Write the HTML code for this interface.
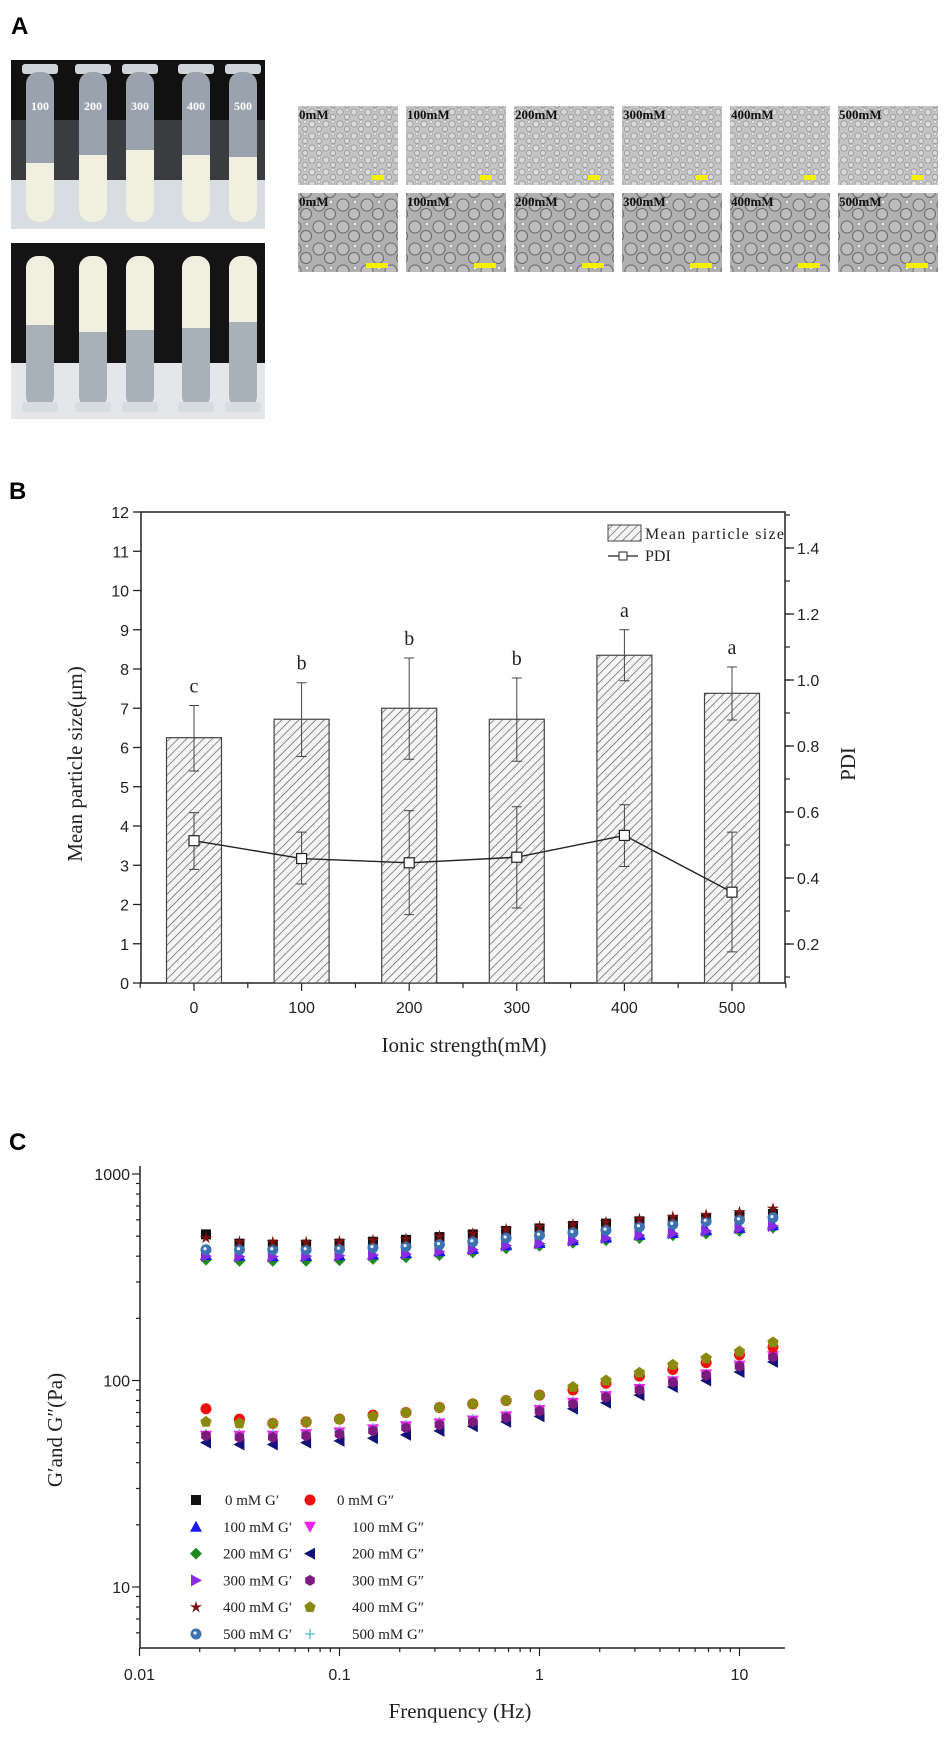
<!DOCTYPE html>
<html><head><meta charset="utf-8">
<style>
html,body{margin:0;padding:0;background:#fff;}
body{width:945px;height:1761px;position:relative;overflow:hidden;}
svg{position:absolute;left:0;top:0;}
</style></head>
<body>
<svg id="fig" width="945" height="1761" viewBox="0 0 945 1761" xmlns="http://www.w3.org/2000/svg">
<defs>
  <pattern id="hatch" width="6" height="6" patternUnits="userSpaceOnUse" patternTransform="rotate(45)">
    <rect width="6" height="6" fill="#f4f4f4"/>
    <line x1="0" y1="0" x2="0" y2="6" stroke="#555" stroke-width="1.3"/>
  </pattern>
  <pattern id="drops1" width="14" height="12" patternUnits="userSpaceOnUse">
    <rect width="14" height="12" fill="#c4c4c4"/>
    <circle cx="4" cy="4" r="3.2" fill="#d8d8d8" stroke="#8a8a8a" stroke-width="0.7"/>
    <circle cx="11" cy="9" r="2.6" fill="#dadada" stroke="#8a8a8a" stroke-width="0.7"/>
    <circle cx="11" cy="2" r="1.6" fill="#e0e0e0" stroke="#999" stroke-width="0.5"/>
  </pattern>
  <pattern id="drops2" width="24" height="22" patternUnits="userSpaceOnUse">
    <rect width="24" height="22" fill="#b0b0b0"/>
    <circle cx="7" cy="7" r="6" fill="#bdbdbd" stroke="#6a6a6a" stroke-width="1"/>
    <circle cx="18" cy="16" r="5.5" fill="#bdbdbd" stroke="#6a6a6a" stroke-width="1"/>
    <circle cx="19" cy="4" r="2" fill="#e8e8e8" stroke="#777" stroke-width="0.6"/>
  </pattern>
</defs>

<!-- Panel A -->
<text x="11" y="34" font-family="Liberation Sans, sans-serif" font-weight="bold" font-size="24">A</text>
<g>
  <rect x="11" y="60" width="254" height="169" fill="#d8dde2"/>
  <rect x="11" y="60" width="254" height="60" fill="#111"/>
  <rect x="11" y="120" width="254" height="60" fill="#3a3c40"/>
  <g id="topTubes"></g>
</g>
<g>
  <rect x="11" y="243" width="254" height="176" fill="#e4e6ea"/>
  <rect x="11" y="243" width="254" height="120" fill="#141414"/>
  <g id="botTubes"></g>
</g>
<g id="micro"></g>

<!-- Panel B -->
<text x="9" y="499" font-family="Liberation Sans, sans-serif" font-weight="bold" font-size="24">B</text>
<g id="chartB"></g>

<!-- Panel C -->
<text x="9" y="1150" font-family="Liberation Sans, sans-serif" font-weight="bold" font-size="24">C</text>
<g id="chartC"></g>
</svg>

<script>
// ---------- Chart B data ----------
const ionicCats = ["0","100","200","300","400","500"];
const meanSize = [6.25, 6.72, 7.0, 6.72, 8.35, 7.38];
const sizeUpper = [7.07, 7.65, 8.28, 7.77, 9.0, 8.05];
const sizeLower = [5.4, 5.77, 5.7, 5.65, 7.7, 6.7];
const pdiVals = [0.513, 0.459, 0.446, 0.463, 0.529, 0.357];
const pdiUpper = [0.598, 0.539, 0.604, 0.616, 0.622, 0.539];
const pdiLower = [0.426, 0.382, 0.289, 0.309, 0.435, 0.176];
const sigLetters = ["c","b","b","b","a","a"];
const leftTicks = [0,1,2,3,4,5,6,7,8,9,10,11,12];
const rightTicks = [0.2,0.4,0.6,0.8,1.0,1.2,1.4];

// ---------- Chart C data ----------
const freqs = [0.0215,0.0316,0.0464,0.0681,0.1,0.147,0.215,0.316,0.464,0.681,1,1.47,2.15,3.16,4.64,6.81,10,14.7];
const g0p   = [510,460,455,455,460,470,480,495,510,530,545,560,575,590,600,610,625,640];
const g0pp  = [73,65,62,63,65,68,70,74,77,80,85,90,97,105,113,122,133,145];
const g100p = [405,402,400,402,404,408,414,423,434,452,463,478,492,507,518,533,548,565];
const g100pp= [54,54,54,55,56,58,60,62,64,67,72,78,84,91,99,107,118,131];
const g200p = [385,380,380,380,383,388,395,405,418,437,450,465,478,490,505,515,530,550];
const g200pp= [50,49,49,50,51,52.5,54.5,57,60,63,67,73,78,85,93,100,110,123];
const g300p = [400,398,398,400,402,405,410,420,430,450,460,475,490,505,515,530,545,560];
const g300pp= [54,53,53,54,55,57,59,61,63,66,71,77,83,90,98,106,117,130];
const g400p = [490,470,468,468,472,478,485,500,515,540,555,570,585,605,620,635,655,680];
const g400pp= [63,62,62,63,65,67,70,74,77,80,85,93,100,109,119,128,138,153];
const g500p = [430,430,430,430,432,440,445,455,470,490,505,520,535,555,570,590,600,615];
const g500pp= [55,55,55,56,57,59,61,63,65,68,73,79,85,92,100,108,119,132];
const xTickVals = [0.01,0.1,1,10];
const xTickLabels = ["0.01","0.1","1","10"];
const yTickVals = [10,100,1000];
const yTickLabels = ["10","100","1000"];

const NS = "http://www.w3.org/2000/svg";
function mk(parent, tag, attrs, text){
  const e = document.createElementNS(NS, tag);
  for (const k in attrs) e.setAttribute(k, attrs[k]);
  if (text !== undefined) e.textContent = text;
  parent.appendChild(e);
  return e;
}

// ---------- Panel A drawings ----------
(function(){
  const top = document.getElementById('topTubes');
  const bot = document.getElementById('botTubes');
  const cx = [40, 93, 140, 196, 243];
  const lab = ["100","200","300","400","500"];
  const creamTop = [163,155,150,155,157];
  const creamBot = [325,332,330,328,322];
  for (let i=0;i<5;i++){
    const t = mk(top,'g',{});
    
    
    mk(t,'rect',{x:cx[i]-18,y:64,width:36,height:10,rx:3,fill:'#cfd4da'});
    mk(t,'rect',{x:cx[i]-14,y:72,width:28,height:150,rx:12,fill:'#9aa3ad'});
    mk(t,'rect',{x:cx[i]-14,y:creamTop[i],width:28,height:222-creamTop[i],rx:12,fill:'#f1efe0'});
    mk(t,'rect',{x:cx[i]-14,y:creamTop[i],width:28,height:14,fill:'#f1efe0'});
    mk(t,'text',{x:cx[i],y:110,'text-anchor':'middle','font-family':'Liberation Serif, serif','font-size':'12','font-weight':'bold',fill:'#fff'},lab[i]);
    const b = mk(bot,'g',{});
    
    
    mk(b,'rect',{x:cx[i]-14,y:256,width:28,height:152,rx:12,fill:'#a8b0b8'});
    mk(b,'rect',{x:cx[i]-14,y:256,width:28,height:creamBot[i]-256,rx:12,fill:'#f1efe0'});
    mk(b,'rect',{x:cx[i]-14,y:creamBot[i]-14,width:28,height:14,fill:'#f1efe0'});
    mk(b,'rect',{x:cx[i]-18,y:402,width:36,height:10,rx:3,fill:'#d7dce1'});
  }
  const micro = document.getElementById('micro');
  const mlabels = ["0mM","100mM","200mM","300mM","400mM","500mM"];
  for (let r=0;r<2;r++){
    for (let c=0;c<6;c++){
      const x = 298 + c*108, y = r===0 ? 106 : 193;
      const g = mk(micro,'g',{});
      
      
      mk(g,'rect',{x:x,y:y,width:100,height:79,fill:r===0?'url(#drops1)':'url(#drops2)'});
      mk(g,'text',{x:x+1,y:y+13,'font-family':'Liberation Serif, serif','font-size':'13','font-weight':'bold',fill:'#111'},mlabels[c]);
      mk(g,'rect',{x:x+(r===0?74:68),y:y+(r===0?69:70),width:r===0?12:22,height:5,fill:'#f3f000'});
    }
  }
})();

// ---------- Chart B ----------
(function(){
  const g = document.getElementById('chartB');
  const L=141, R=785, T=512, B=983;
  const yL = v => B - v*(B-T)/12;
  const yR = p => 944 - (p-0.2)*330;
  const xc = i => 194 + i*107.6;
  const FS = 'Liberation Sans, sans-serif', FR='Liberation Serif, serif';
  const box = mk(g,'rect',{x:L,y:T,width:R-L,height:B-T,fill:'none',stroke:'#222','stroke-width':'1.5'});
  
  
  leftTicks.forEach(v=>{
    mk(g,'line',{x1:L-8,x2:L,y1:yL(v),y2:yL(v),stroke:'#222','stroke-width':'1.3'});
    const t = mk(g,'text',{x:L-12,y:yL(v)+6,'text-anchor':'end','font-family':FS,'font-size':'16',fill:'#222'},String(v));
    
    
  });
  for (let p=0.1;p<1.51;p+=0.1){
    mk(g,'line',{x1:R,x2:R+5,y1:yR(p),y2:yR(p),stroke:'#222','stroke-width':'1.2'});
  }
  rightTicks.forEach(p=>{
    mk(g,'line',{x1:R,x2:R+9,y1:yR(p),y2:yR(p),stroke:'#222','stroke-width':'1.3'});
    const t = mk(g,'text',{x:R+12,y:yR(p)+6,'font-family':FS,'font-size':'16',fill:'#222'},p.toFixed(1));
    
    
  });
  for (let k=-1;k<=12;k++){
    const x = 194 + k*53.8;
    if (x<L-1||x>R+1) continue;
    mk(g,'line',{x1:x,x2:x,y1:B,y2:B+(k%2===0?8:5),stroke:'#222','stroke-width':'1.2'});
  }
  ionicCats.forEach((c,i)=>{
    const bar = mk(g,'rect',{x:xc(i)-27.5,y:yL(meanSize[i]),width:55,height:B-yL(meanSize[i]),fill:'url(#hatch)',stroke:'#444','stroke-width':'1.2'});
    
    
    const eb = mk(g,'path',{d:`M${xc(i)},${yL(sizeUpper[i])}V${yL(sizeLower[i])}M${xc(i)-5},${yL(sizeUpper[i])}H${xc(i)+5}M${xc(i)-5},${yL(sizeLower[i])}H${xc(i)+5}`,stroke:'#444','stroke-width':'1',fill:'none'});
    
    
    const lt = mk(g,'text',{x:xc(i),y:yL(sizeUpper[i])-13,'text-anchor':'middle','font-family':FR,'font-size':'20',fill:'#222'},sigLetters[i]);
    
    
    const xl = mk(g,'text',{x:xc(i),y:1013,'text-anchor':'middle','font-family':FS,'font-size':'16',fill:'#222'},c);
    
    
  });
  const line = mk(g,'polyline',{points:pdiVals.map((p,i)=>xc(i)+','+yR(p)).join(' '),fill:'none',stroke:'#222','stroke-width':'1.4'});
  
  
  pdiVals.forEach((p,i)=>{
    const eb = mk(g,'path',{d:`M${xc(i)},${yR(pdiUpper[i])}V${yR(pdiLower[i])}M${xc(i)-5},${yR(pdiUpper[i])}H${xc(i)+5}M${xc(i)-5},${yR(pdiLower[i])}H${xc(i)+5}`,stroke:'#444','stroke-width':'1',fill:'none'});
    
    
    const m = mk(g,'rect',{x:xc(i)-5,y:yR(p)-5,width:10,height:10,fill:'#fff',stroke:'#222','stroke-width':'1.2'});
    
    
  });
  const lg = mk(g,'g',{});
  
  
  mk(lg,'rect',{x:608,y:525,width:33,height:16,fill:'url(#hatch)',stroke:'#444','stroke-width':'1'});
  mk(lg,'text',{x:645,y:539,'font-family':FR,'font-size':'16',fill:'#222',textLength:'139'},'Mean particle size');
  mk(lg,'line',{x1:608,x2:638,y1:556,y2:556,stroke:'#222','stroke-width':'1.3'});
  mk(lg,'rect',{x:619,y:552,width:8,height:8,fill:'#fff',stroke:'#222','stroke-width':'1'});
  mk(lg,'text',{x:645,y:561,'font-family':FR,'font-size':'16',fill:'#222'},'PDI');
  const yt = mk(g,'text',{x:0,y:0,transform:'translate(82,764) rotate(-90)','text-anchor':'middle','font-family':FR,'font-size':'21',fill:'#222'},'Mean particle size(μm)');
  
  
  const rt = mk(g,'text',{x:0,y:0,transform:'translate(855,764) rotate(-90)','text-anchor':'middle','font-family':FR,'font-size':'21',fill:'#222'},'PDI');
  
  
  const xt = mk(g,'text',{x:464,y:1052,'text-anchor':'middle','font-family':FR,'font-size':'21',fill:'#222'},'Ionic strength(mM)');
  
  
})();

// ---------- Chart C ----------
(function(){
  const g = document.getElementById('chartC');
  const L=140, R=785, T=1166, B=1648;
  const xs = f => 139.5 + Math.log10(f/0.01)*200;
  const ys = v => 1174 + (3-Math.log10(v))*206.5;
  const FS='Liberation Sans, sans-serif', FR='Liberation Serif, serif';
  const ax = mk(g,'path',{d:`M${L},${T}V${B}H${R}`,fill:'none',stroke:'#222','stroke-width':'1.5'});
  
  
  for (let d=0.01; d<20; d*=10){
    for (let k=1;k<10;k++){
      const f=d*k, x=xs(f);
      if (x>R) break;
      mk(g,'line',{x1:x,x2:x,y1:B,y2:B+(k===1?8:4),stroke:'#222','stroke-width':'1.2'});
    }
  }
  xTickVals.forEach((v,i)=>{
    const t=mk(g,'text',{x:xs(v),y:1680,'text-anchor':'middle','font-family':FS,'font-size':'16',fill:'#222'},xTickLabels[i]);
    
    
  });
  for (let d=1; d<1000; d*=10){
    for (let k=1;k<10;k++){
      const v=d*k, y=ys(v);
      if (y>B) continue;
      mk(g,'line',{x1:L-(k===1?8:4),x2:L,y1:y,y2:y,stroke:'#222','stroke-width':'1.2'});
    }
  }
  mk(g,'line',{x1:L-8,x2:L,y1:ys(1000),y2:ys(1000),stroke:'#222','stroke-width':'1.2'});
  yTickVals.forEach((v,i)=>{
    const t=mk(g,'text',{x:L-10,y:ys(v)+6,'text-anchor':'end','font-family':FS,'font-size':'16',fill:'#222'},yTickLabels[i]);
    
    
  });
  function marker(p, shape, color, x, y, s){
    s = s||5;
    let e;
    if (shape==='square') e=mk(p,'rect',{x:x-s,y:y-s,width:2*s,height:2*s,fill:color});
    else if (shape==='circle') e=mk(p,'circle',{cx:x,cy:y,r:s+0.5,fill:color});
    else if (shape==='up') e=mk(p,'polygon',{points:`${x},${y-s-1} ${x-s-1},${y+s} ${x+s+1},${y+s}`,fill:color});
    else if (shape==='down') e=mk(p,'polygon',{points:`${x},${y+s+1} ${x-s-1},${y-s} ${x+s+1},${y-s}`,fill:color});
    else if (shape==='left') e=mk(p,'polygon',{points:`${x-s-1},${y} ${x+s},${y-s-1} ${x+s},${y+s+1}`,fill:color});
    else if (shape==='right') e=mk(p,'polygon',{points:`${x+s+1},${y} ${x-s},${y-s-1} ${x-s},${y+s+1}`,fill:color});
    else if (shape==='diamond') e=mk(p,'polygon',{points:`${x},${y-s-1} ${x+s+1},${y} ${x},${y+s+1} ${x-s-1},${y}`,fill:color});
    else if (shape==='hex'){ let pts=[];for(let k=0;k<6;k++){const a=Math.PI/6+k*Math.PI/3;pts.push((x+(s+0.5)*Math.cos(a))+','+(y+(s+0.5)*Math.sin(a)));} e=mk(p,'polygon',{points:pts.join(' '),fill:color}); }
    else if (shape==='pent'){ let pts=[];for(let k=0;k<5;k++){const a=-Math.PI/2+k*2*Math.PI/5;pts.push((x+(s+1)*Math.cos(a))+','+(y+(s+1)*Math.sin(a)));} e=mk(p,'polygon',{points:pts.join(' '),fill:color}); }
    else if (shape==='star'){ let pts=[];for(let k=0;k<10;k++){const a=-Math.PI/2+k*Math.PI/5;const r=k%2?s*0.45:s+1.5;pts.push((x+r*Math.cos(a))+','+(y+r*Math.sin(a)));} e=mk(p,'polygon',{points:pts.join(' '),fill:color}); }
    else if (shape==='ball'){ e=mk(p,'g',{}); mk(e,'circle',{cx:x,cy:y,r:s+0.5,fill:color}); mk(e,'circle',{cx:x-1,cy:y-1,r:1.6,fill:'#e8f2ff'}); }
    else if (shape==='plus') e=mk(p,'path',{d:`M${x-s},${y}H${x+s}M${x},${y-s}V${y+s}`,stroke:color,'stroke-width':'1.3',fill:'none'});
    return e;
  }
  const series = [
    ['0-mm-g-prime', g0p,'square','#111'],
    ['200-mm-g-prime', g200p,'diamond','#1f8a1f'],
    ['100-mm-g-prime', g100p,'up','#1a1aee'],
    ['300-mm-g-prime', g300p,'right','#8a2be2'],
    ['500-mm-g-prime', g500p,'ball','#3d72b0'],
    ['400-mm-g-prime', g400p,'star','#7a1010'],
    ['200-mm-g-double-prime', g200pp,'left','#12127a'],
    ['100-mm-g-double-prime', g100pp,'down','#ee22ee'],
    ['500-mm-g-double-prime', g500pp,'plus','#5ab4c8'],
    ['300-mm-g-double-prime', g300pp,'hex','#7d1a80'],
    ['0-mm-g-double-prime', g0pp,'circle','#ee1111'],
    ['400-mm-g-double-prime', g400pp,'pent','#8a8a10']
  ];
  series.forEach(s=>{
    const sg = mk(g,'g',{});
    
    
    s[1].forEach((v,i)=>{
      const m = marker(sg, s[2], s[3], xs(freqs[i]), ys(v));
      
      
    });
  });
  const lg = mk(g,'g',{});
  
  
  const leg = [
    ['square','#111','0 mM G′','circle','#ee1111','0 mM G″'],
    ['up','#1a1aee','100 mM G′','down','#ee22ee','100 mM G″'],
    ['diamond','#1f8a1f','200 mM G′','left','#12127a','200 mM G″'],
    ['right','#8a2be2','300 mM G′','hex','#7d1a80','300 mM G″'],
    ['star','#7a1010','400 mM G′','pent','#8a8a10','400 mM G″'],
    ['ball','#3d72b0','500 mM G′','plus','#5ab4c8','500 mM G″']
  ];
  leg.forEach((r,i)=>{
    const y = 1500 + i*26.8;
    marker(lg, r[0], r[1], 196, y);
    const t1 = mk(lg,'text',{x:r[2].length>8?223:225,y:y+5,'font-family':FR,'font-size':'15',fill:'#222'},r[2]);
    
    
    marker(lg, r[3], r[4], 310, y);
    const t2 = mk(lg,'text',{x:r[5].length>8?352:337,y:y+5,'font-family':FR,'font-size':'15',fill:'#222'},r[5]);
    
    
  });
  const yt = mk(g,'text',{x:0,y:0,transform:'translate(62,1430) rotate(-90)','text-anchor':'middle','font-family':FR,'font-size':'21',fill:'#222'},'G′and G″(Pa)');
  
  
  const xt = mk(g,'text',{x:460,y:1718,'text-anchor':'middle','font-family':FR,'font-size':'21',fill:'#222'},'Frenquency (Hz)');
  
  
})();
</script>
</body></html>
